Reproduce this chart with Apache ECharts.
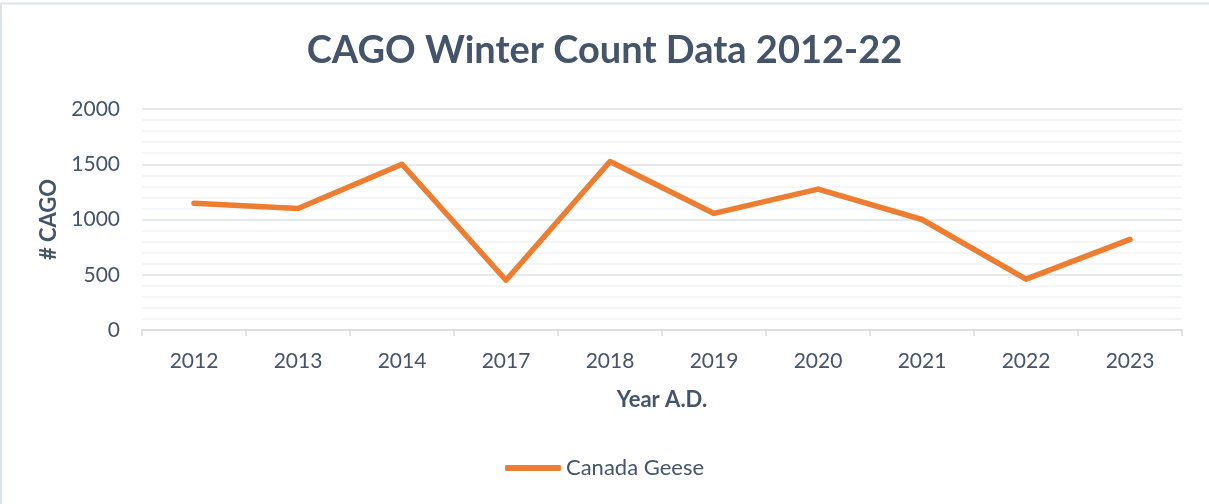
<!DOCTYPE html>
<html>
<head>
<meta charset="utf-8">
<script src="https://cdn.jsdelivr.net/npm/echarts@6/dist/echarts.min.js"></script>
<style>
html,body{margin:0;padding:0;background:#fff;}
#chart{width:1209px;height:504px;}
</style>
</head>
<body>
<div id="chart"></div>
<script>
const years = ['2012','2013','2014','2017','2018','2019','2020','2021','2022','2023'];
const canadaGeese = [1147, 1100, 1500, 450, 1525, 1055, 1275, 1000, 460, 820];
const seriesName = 'Canada Geese';
const titleText = 'CAGO Winter Count Data 2012-22';
const yTicks = [0, 500, 1000, 1500, 2000];

const textColor = '#44546A';
const font = 'Lato';

const chart = echarts.init(document.getElementById('chart'));
chart.setOption({
  backgroundColor: '#fff',
  animation: false,
  title: {
    text: titleText,
    left: 'center',
    top: 27,
    textStyle: {fontFamily: font, fontSize: 38, fontWeight: 'bold', color: textColor}
  },
  legend: {
    data: [{name: seriesName, icon: 'roundRect'}],
    bottom: 20,
    left: 'center',
    itemWidth: 56,
    itemHeight: 6,
    itemStyle: {color: '#ED7D31', borderWidth: 0},
    textStyle: {fontFamily: font, fontSize: 22, color: textColor}
  },
  grid: {left: 142, right: 27, top: 109, bottom: 174, containLabel: false},
  xAxis: {
    type: 'category',
    data: years,
    boundaryGap: true,
    name: 'Year A.D.',
    nameLocation: 'middle',
    nameGap: 59,
    nameTextStyle: {fontFamily: font, fontSize: 22, fontWeight: 'bold', color: textColor},
    axisLine: {lineStyle: {color: '#D6DCE4', width: 1.5}},
    axisTick: {show: true, length: 6, lineStyle: {color: '#D6DCE4', width: 1.5}},
    axisLabel: {fontFamily: font, fontSize: 21, color: textColor, margin: 21}
  },
  yAxis: {
    type: 'value',
    min: yTicks[0],
    max: yTicks[yTicks.length - 1],
    interval: 500,
    name: '# CAGO',
    nameLocation: 'middle',
    nameGap: 80,
    nameTextStyle: {fontFamily: font, fontSize: 22, fontWeight: 'bold', color: textColor},
    axisLine: {show: false},
    axisTick: {show: false},
    axisLabel: {fontFamily: font, fontSize: 21, color: textColor, margin: 22, formatter: v => String(v)},
    splitLine: {show: true, lineStyle: {color: '#DEE3EA', width: 1.5}},
    minorTick: {show: false, splitNumber: 5},
    minorSplitLine: {show: true, lineStyle: {color: '#F1F3F6', width: 1.5}}
  },
  series: [{
    name: seriesName,
    type: 'line',
    data: canadaGeese,
    showSymbol: false,
    symbol: 'none',
    lineStyle: {color: '#ED7D31', width: 5.5, cap: 'round', join: 'round'},
    itemStyle: {color: '#ED7D31'}
  }],
  graphic: [
    {type: 'line', shape: {x1: 0, y1: 3.5, x2: 1209, y2: 3.5}, style: {stroke: '#DDE3EA', lineWidth: 2}},
    {type: 'line', shape: {x1: 1, y1: 3, x2: 1, y2: 504}, style: {stroke: '#DDE3EA', lineWidth: 2}}
  ]
});
</script>
</body>
</html>
